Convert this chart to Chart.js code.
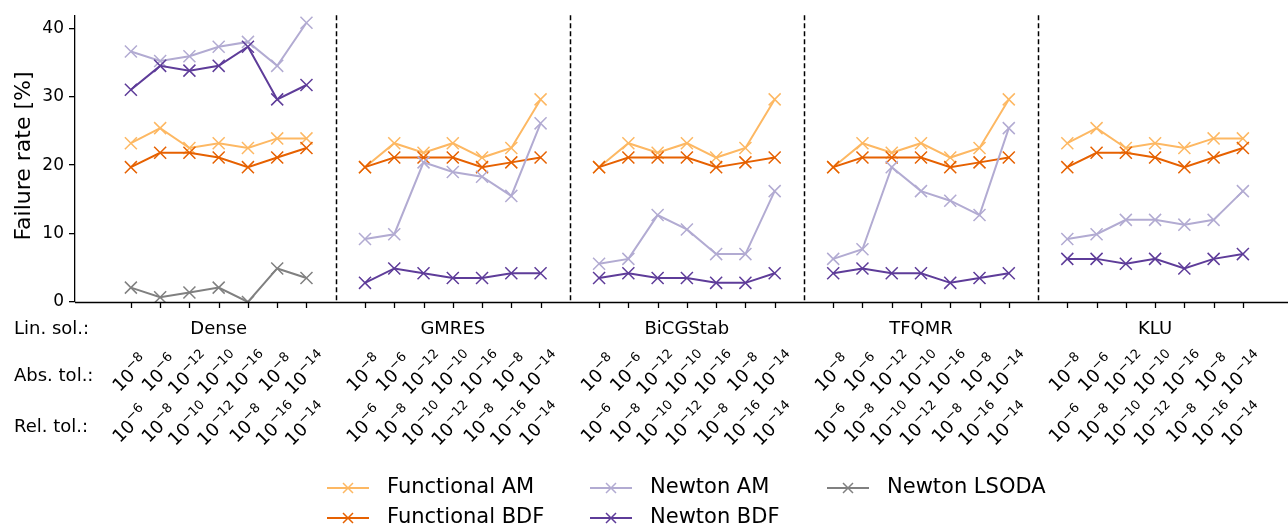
<!DOCTYPE html>
<html>
<head>
<meta charset="utf-8">
<script src="https://cdn.jsdelivr.net/npm/chart.js@4.4.1/dist/chart.umd.min.js"></script>
<style>
  body { margin: 0; background: #fff; }
  #wrap { width: 1288px; height: 527px; }
</style>
</head>
<body>
<div id="wrap"><canvas id="chart" width="1288" height="527"></canvas></div>
<script>
// data
const groups = ['Dense', 'GMRES', 'BiCGStab', 'TFQMR', 'KLU'];
const absTolExp = ['8', '6', '12', '10', '16', '8', '14'];
const relTolExp = ['6', '8', '10', '12', '8', '16', '14'];
const yTicks = [0, 10, 20, 30, 40];

const functionalAM = [
    23.2, 25.4, 22.5, 23.2, 22.5, 23.9, 23.9,
    19.7, 23.2, 21.8, 23.2, 21.1, 22.5, 29.6,
    19.7, 23.2, 21.8, 23.2, 21.1, 22.5, 29.6,
    19.7, 23.2, 21.8, 23.2, 21.1, 22.5, 29.6,
    23.2, 25.4, 22.5, 23.2, 22.5, 23.9, 23.9
];
const functionalBDF = [
    19.7, 21.8, 21.8, 21.1, 19.7, 21.1, 22.5,
    19.7, 21.1, 21.1, 21.1, 19.7, 20.4, 21.1,
    19.7, 21.1, 21.1, 21.1, 19.7, 20.4, 21.1,
    19.7, 21.1, 21.1, 21.1, 19.7, 20.4, 21.1,
    19.7, 21.8, 21.8, 21.1, 19.7, 21.1, 22.5
];
const newtonAM = [
    36.6, 35.2, 35.9, 37.3, 38.0, 34.5, 40.8,
    9.2, 9.9, 20.4, 19.0, 18.3, 15.5, 26.1,
    5.6, 6.3, 12.7, 10.6, 7.0, 7.0, 16.2,
    6.3, 7.7, 19.7, 16.2, 14.8, 12.7, 25.4,
    9.2, 9.9, 12.0, 12.0, 11.3, 12.0, 16.2
];
const newtonBDF = [
    31.0, 34.5, 33.8, 34.5, 37.3, 29.6, 31.7,
    2.8, 4.9, 4.2, 3.5, 3.5, 4.2, 4.2,
    3.5, 4.2, 3.5, 3.5, 2.8, 2.8, 4.2,
    4.2, 4.9, 4.2, 4.2, 2.8, 3.5, 4.2,
    6.3, 6.3, 5.6, 6.3, 4.9, 6.3, 7.0
];
const newtonLSODA = [2.1, 0.7, 1.4, 2.1, 0.0, 4.9, 3.5]; // Dense only

const FONT = 'DejaVu Sans';
const N = 7;        // settings per group
const SLOT = 8;     // 7 points + separator

// spread the values over the x axis, one gap between groups
function toPoints(vals) {
    const pts = [];
    groups.forEach((g, gi) => {
        for (let i = 0; i < N; i++) {
            const v = vals[gi * N + i];
            if (v !== undefined) pts.push({ x: gi * SLOT + i, y: v });
        }
        pts.push({ x: gi * SLOT + N, y: null });
    });
    return pts;
}

function series(label, vals, color, order) {
    return {
        label: label,
        data: toPoints(vals),
        borderColor: color,
        backgroundColor: color,
        borderWidth: 2,
        pointStyle: 'crossRot',
        pointRadius: 8.5,
        pointHoverRadius: 8.5,
        pointBorderWidth: 1.5,
        spanGaps: false,
        order: order
    };
}

const datasets = [
    series('Functional AM', functionalAM, '#fdb863', 4),
    series('Functional BDF', functionalBDF, '#e66101', 3),
    series('Newton AM', newtonAM, '#b2abd2', 2),
    series('Newton BDF', newtonBDF, '#5e3c99', 1),
    series('Newton LSODA', newtonLSODA, '#808080', 0)
];

// exponent tick label "10^-n", rotated 45 degrees, centred near the tick
function drawPow(ctx, x, y, exp) {
    const big = '18px "' + FONT + '"';
    const small = '13px "' + FONT + '"';
    ctx.save();
    ctx.font = big;
    const wBase = ctx.measureText('10').width;
    ctx.font = small;
    const wExp = ctx.measureText('\u2212' + exp).width;
    const L = wBase + wExp;
    ctx.translate(x, y);
    ctx.rotate(-Math.PI / 4);
    ctx.fillStyle = '#000';
    ctx.textBaseline = 'alphabetic';
    ctx.textAlign = 'left';
    ctx.font = big;
    ctx.fillText('10', -L / 2, 8);
    ctx.font = small;
    ctx.fillText('\u2212' + exp, -L / 2 + wBase, 0);
    ctx.restore();
}

const decorations = {
    id: 'decorations',
    beforeDatasetsDraw(chart) {
        const ctx = chart.ctx;
        const xs = chart.scales.x;
        const area = chart.chartArea;
        ctx.save();
        // group separators
        ctx.strokeStyle = '#000';
        ctx.lineWidth = 1.5;
        ctx.setLineDash([5, 3]);
        for (let g = 0; g < groups.length - 1; g++) {
            const px = Math.round(xs.getPixelForValue(g * SLOT + N)) + 0.5;
            ctx.beginPath();
            ctx.moveTo(px, area.top);
            ctx.lineTo(px, area.bottom);
            ctx.stroke();
        }
        ctx.restore();
    },
    afterDraw(chart) {
        const ctx = chart.ctx;
        const xs = chart.scales.x;
        const area = chart.chartArea;
        ctx.save();
        // bottom spine and ticks
        ctx.strokeStyle = '#000';
        ctx.lineWidth = 1.3;
        ctx.beginPath();
        ctx.moveTo(area.left, area.bottom + 0.5);
        ctx.lineTo(chart.width, area.bottom + 0.5);
        ctx.stroke();
        groups.forEach((g, gi) => {
            for (let i = 0; i < N; i++) {
                const px = Math.round(xs.getPixelForValue(gi * SLOT + i)) + 0.5;
                ctx.beginPath();
                ctx.moveTo(px, area.bottom);
                ctx.lineTo(px, area.bottom + 6);
                ctx.stroke();
            }
        });

        // y title
        ctx.fillStyle = '#000';
        ctx.save();
        ctx.translate(24, 156);
        ctx.rotate(-Math.PI / 2);
        ctx.font = '22px "' + FONT + '"';
        ctx.textAlign = 'center';
        ctx.textBaseline = 'middle';
        ctx.fillText('Failure rate [%]', 0, 0);
        ctx.restore();

        // row labels
        ctx.font = '18px "' + FONT + '"';
        ctx.textAlign = 'left';
        ctx.textBaseline = 'middle';
        ctx.fillText('Lin. sol.:', 14, 329);
        ctx.fillText('Abs. tol.:', 14, 376);
        ctx.fillText('Rel. tol.:', 14, 427);

        ctx.textAlign = 'center';
        groups.forEach((g, gi) => {
            ctx.fillText(g, xs.getPixelForValue(gi * SLOT + 3), 329);
            for (let i = 0; i < N; i++) {
                const px = xs.getPixelForValue(gi * SLOT + i);
                drawPow(ctx, px - 2, 372, absTolExp[i]);
                drawPow(ctx, px - 2, 423, relTolExp[i]);
            }
        });

        // legend, 3 columns like matplotlib
        const cols = [[0, 1], [2, 3], [4]];
        const colX = [327, 590, 827];
        const rowY = [488, 518];
        ctx.font = '21px "' + FONT + '"';
        ctx.textAlign = 'left';
        ctx.textBaseline = 'middle';
        cols.forEach((col, ci) => {
            col.forEach((di, ri) => {
                const ds = chart.data.datasets[di];
                const x0 = colX[ci];
                const y0 = rowY[ri];
                ctx.strokeStyle = ds.borderColor;
                ctx.lineWidth = 2;
                ctx.beginPath();
                ctx.moveTo(x0, y0);
                ctx.lineTo(x0 + 42, y0);
                ctx.stroke();
                ctx.lineWidth = 1.5;
                ctx.beginPath();
                ctx.moveTo(x0 + 16, y0 - 5);
                ctx.lineTo(x0 + 26, y0 + 5);
                ctx.moveTo(x0 + 26, y0 - 5);
                ctx.lineTo(x0 + 16, y0 + 5);
                ctx.stroke();
                ctx.fillStyle = '#000';
                ctx.fillText(ds.label, x0 + 60, y0);
            });
        });
        ctx.restore();
    }
};

new Chart(document.getElementById('chart'), {
    type: 'line',
    data: { datasets: datasets },
    options: {
        responsive: false,
        animation: false,
        layout: { padding: { top: 13, bottom: 225, left: 0, right: 0 } },
        plugins: {
            legend: { display: false },
            tooltip: { enabled: false }
        },
        scales: {
            x: {
                type: 'linear',
                min: -1.91,
                max: 39.2,
                display: false
            },
            y: {
                min: 0,
                max: 41.9,
                afterFit: function(s) { s.width = 75; },
                afterBuildTicks: function(s) { s.ticks = yTicks.map(v => ({ value: v })); },
                border: { display: true, color: '#000', width: 1.3 },
                grid: { drawOnChartArea: false, drawTicks: true, tickLength: 6, color: '#000', lineWidth: 1.3 },
                ticks: { color: '#000', padding: 5, font: { family: FONT, size: 17 } }
            }
        }
    },
    plugins: [decorations]
});
</script>
</body>
</html>
